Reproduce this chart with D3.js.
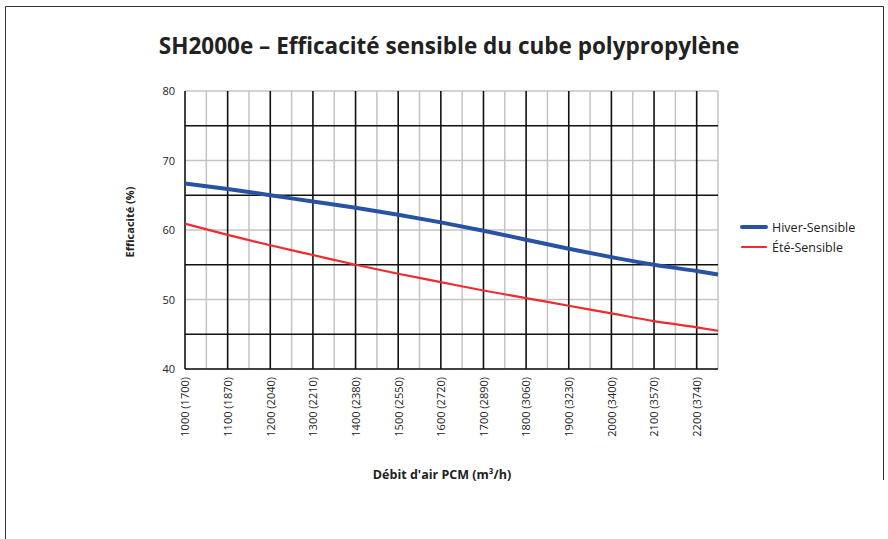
<!DOCTYPE html>
<html>
<head>
<meta charset="utf-8">
<script src="https://cdn.jsdelivr.net/npm/d3@7"></script>
<style>
  body { margin: 0; background: #fff; }
  text { font-family: "Open Sans", "Noto Sans", sans-serif; fill: #222; }
</style>
</head>
<body>
<script>
// debit d'air (PCM) and the matching readings
let debit = [1000, 1100, 1200, 1300, 1400, 1500, 1600, 1700, 1800, 1900, 2000, 2100, 2200, 2250];
let hiver = [66.7, 65.9, 65.0, 64.1, 63.2, 62.2, 61.1, 59.9, 58.6, 57.3, 56.1, 55.0, 54.1, 53.6];
let ete   = [60.9, 59.3, 57.8, 56.4, 55.0, 53.7, 52.5, 51.3, 50.2, 49.1, 48.0, 46.9, 46.0, 45.5];
let xTicks = [1000, 1100, 1200, 1300, 1400, 1500, 1600, 1700, 1800, 1900, 2000, 2100, 2200];
let xTickLabels = ["1000 (1700)", "1100 (1870)", "1200 (2040)", "1300 (2210)", "1400 (2380)", "1500 (2550)",
  "1600 (2720)", "1700 (2890)", "1800 (3060)", "1900 (3230)", "2000 (3400)", "2100 (3570)", "2200 (3740)"];
let yTicks = [40, 50, 60, 70, 80];
let seriesNames = ["Hiver-Sensible", "Été-Sensible"];

let w = 888, h = 539;
let svg = d3.select("body").append("svg").attr("width", w).attr("height", h);

// frame
svg.append("path").attr("d", "M5.5,539 L5.5,6.5 L883.5,6.5 L883.5,480")
  .attr("fill", "none").attr("stroke", "#333").attr("stroke-width", 1);

svg.append("text").attr("x", 449).attr("y", 54).attr("text-anchor", "middle")
  .style("font-size", "22.5px").style("font-weight", "bold")
  .text("SH2000e – Efficacité sensible du cube polypropylène");

let x = d3.scaleLinear().domain([1000, 2250]).range([185, 718]);
let y = d3.scaleLinear().domain([40, 80]).range([369, 91]);

let grid = svg.append("g");
// minor (gray) grid
d3.range(1050, 2251, 100).forEach(v => {
  grid.append("line").attr("x1", x(v)).attr("x2", x(v)).attr("y1", y(40)).attr("y2", y(80))
    .attr("stroke", "#c4c4c4").attr("stroke-width", 1.5);
});
yTicks.forEach(v => {
  grid.append("line").attr("x1", x(1000)).attr("x2", x(2250)).attr("y1", y(v)).attr("y2", y(v))
    .attr("stroke", "#c4c4c4").attr("stroke-width", 1.5);
});
// major (black) grid
xTicks.forEach(v => {
  grid.append("line").attr("x1", x(v)).attr("x2", x(v)).attr("y1", y(40)).attr("y2", y(80))
    .attr("stroke", "#111").attr("stroke-width", 1.6);
});
[45, 55, 65, 75].forEach(v => {
  grid.append("line").attr("x1", x(1000)).attr("x2", x(2250)).attr("y1", y(v)).attr("y2", y(v))
    .attr("stroke", "#111").attr("stroke-width", 1.6);
});
grid.append("line").attr("x1", x(1000)).attr("x2", x(2250)).attr("y1", y(40)).attr("y2", y(40))
  .attr("stroke", "#111").attr("stroke-width", 1.6);

// y axis labels
let yAxis = svg.append("g").attr("transform", "translate(" + x(1000) + ",0)")
  .call(d3.axisLeft(y).tickValues(yTicks).tickSize(0).tickPadding(10));
yAxis.select(".domain").remove();
yAxis.selectAll("text").style("font-size", "11px").style("font-family", "'Open Sans', sans-serif").attr("fill", "#222");

// x axis labels
let xAxis = svg.append("g").attr("transform", "translate(0," + y(40) + ")")
  .call(d3.axisBottom(x).tickValues(xTicks).tickSize(0).tickFormat((d, i) => xTickLabels[i]));
xAxis.select(".domain").remove();
xAxis.selectAll("text")
  .attr("transform", "rotate(-90)").attr("x", -8).attr("y", 0).attr("dy", "0.35em")
  .style("text-anchor", "end").style("font-size", "11px")
  .style("font-family", "'Open Sans', sans-serif").attr("fill", "#222");

svg.append("text").attr("transform", "translate(134,222) rotate(-90)").attr("text-anchor", "middle")
  .style("font-size", "11px").style("font-weight", "bold").text("Efficacité (%)");
svg.append("text").attr("x", 442).attr("y", 479).attr("text-anchor", "middle")
  .style("font-size", "12.5px").style("font-weight", "bold").text("Débit d'air PCM (m³/h)");

let line = d3.line().x(d => x(d[0])).y(d => y(d[1])).curve(d3.curveMonotoneX);
svg.append("path").datum(debit.map((d, i) => [d, ete[i]])).attr("d", line)
  .attr("fill", "none").attr("stroke", "#ee2b2f").attr("stroke-width", 2.2);
svg.append("path").datum(debit.map((d, i) => [d, hiver[i]])).attr("d", line)
  .attr("fill", "none").attr("stroke", "#2a52a2").attr("stroke-width", 4);

// legend
let colors = ["#2a52a2", "#ee2b2f"], widths = [4, 2.2];
seriesNames.forEach((n, i) => {
  let ly = 227 + i * 20;
  svg.append("line").attr("x1", 742).attr("x2", 766).attr("y1", ly).attr("y2", ly)
    .attr("stroke", colors[i]).attr("stroke-width", widths[i]).attr("stroke-linecap", "round");
  svg.append("text").attr("x", 772).attr("y", ly + 4.5).style("font-size", "12.5px").text(n);
});
</script>
</body>
</html>
